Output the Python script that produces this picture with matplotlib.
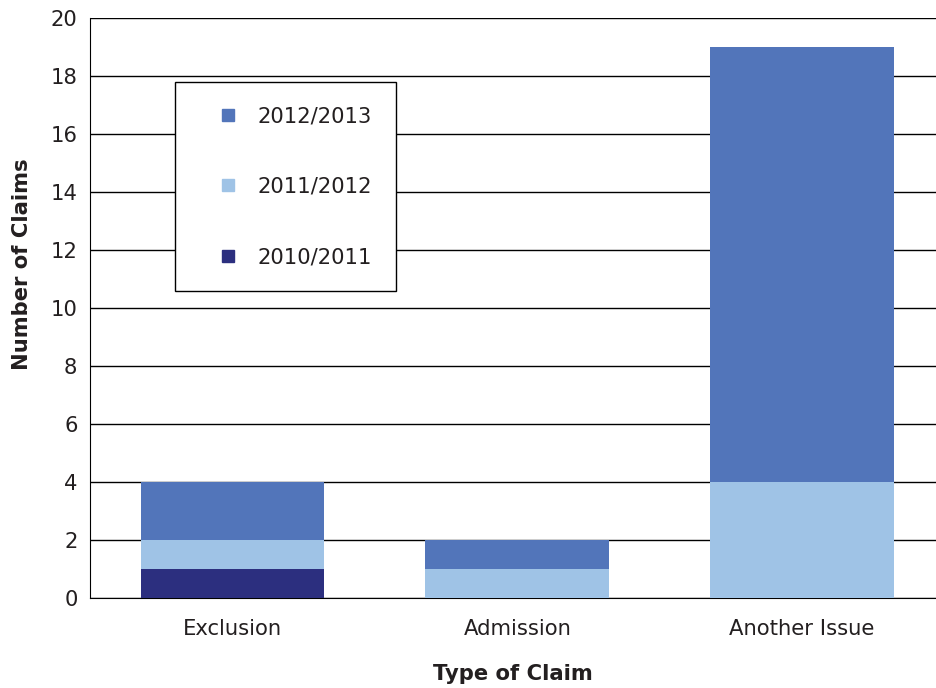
import matplotlib
matplotlib.use("Agg")
import matplotlib.pyplot as plt
from matplotlib.lines import Line2D

# data
categories = ["Exclusion", "Admission", "Another Issue"]
y2010_2011 = [1, 0, 0]
y2011_2012 = [1, 1, 4]
y2012_2013 = [2, 1, 15]
series_names = ["2012/2013", "2011/2012", "2010/2011"]
yticks = [0, 2, 4, 6, 8, 10, 12, 14, 16, 18, 20]

c_dark = "#2c2f7f"
c_light = "#9fc3e6"
c_mid = "#5275ba"
txt = "#231f20"
fs = 15.2

plt.rcParams['font.family'] = ['DejaVu Sans']

fig = plt.figure(figsize=(9.36, 6.88), dpi=100)
ax = fig.add_axes([90/936, 90/688, 846/936, 580/688])

x = range(len(categories))
w = 0.645
bottom2 = [a + b for a, b in zip(y2010_2011, y2011_2012)]
ax.bar(x, y2010_2011, w, color=c_dark, zorder=3)
ax.bar(x, y2011_2012, w, bottom=y2010_2011, color=c_light, zorder=3)
ax.bar(x, y2012_2013, w, bottom=bottom2, color=c_mid, zorder=3)

ax.set_ylim(0, 20)
ax.set_xlim(-0.5, 2.47)
ax.set_yticks(yticks)
ax.set_xticks(list(x))
ax.set_xticklabels(categories)
ax.yaxis.grid(True, color="black", linewidth=1)
ax.set_axisbelow(True)
ax.tick_params(length=0, labelsize=fs, colors=txt)
ax.tick_params(axis='x', pad=15)
ax.tick_params(axis='y', pad=9)
for s in ["top", "right"]:
    ax.spines[s].set_visible(False)
ax.spines["left"].set_color("black")
ax.spines["bottom"].set_color("black")

ax.set_ylabel("Number of Claims", fontsize=fs, fontweight="bold", color=txt)
ax.yaxis.set_label_coords(-0.068, 0.576)
ax.set_xlabel("Type of Claim", fontsize=fs, fontweight="bold", color=txt, labelpad=18)

handles = [Line2D([], [], marker='s', linestyle='none', markersize=8.6, color=c)
           for c in [c_mid, c_light, c_dark]]
leg = ax.legend(handles, series_names, loc="upper left",
                bbox_to_anchor=(175/936, 1 - 82/688), bbox_transform=fig.transFigure,
                fontsize=fs, frameon=True, fancybox=False, framealpha=1,
                edgecolor="black", handlelength=2.75, handletextpad=0.0,
                labelspacing=2.4, borderpad=1.14, borderaxespad=0)
leg.get_frame().set_linewidth(1)
for t in leg.get_texts():
    t.set_color(txt)

fig.savefig("out.png", dpi=100)
